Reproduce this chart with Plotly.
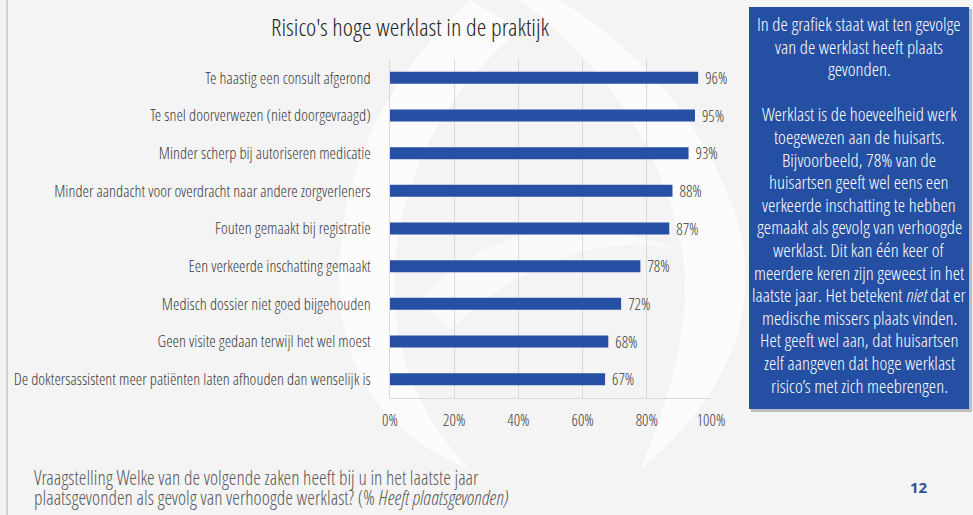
import plotly.graph_objects as go

categories = [
    "Te haastig een consult afgerond",
    "Te snel doorverwezen (niet doorgevraagd)",
    "Minder scherp bij autoriseren medicatie",
    "Minder aandacht voor overdracht naar andere zorgverleners",
    "Fouten gemaakt bij registratie",
    "Een verkeerde inschatting gemaakt",
    "Medisch dossier niet goed bijgehouden",
    "Geen visite gedaan terwijl het wel moest",
    "De doktersassistent meer patiënten laten afhouden dan wenselijk is",
]
values = [96, 95, 93, 88, 87, 78, 72, 68, 67]
tick_vals = [0, 20, 40, 60, 80, 100]
tick_text = ["0%", "20%", "40%", "60%", "80%", "100%"]

title = "Risico's hoge werklast in de praktijk"
box_lines = [
    "In de grafiek staat wat ten gevolge",
    "van de werklast heeft plaats",
    "gevonden.",
    "",
    "Werklast is de hoeveelheid werk",
    "toegewezen aan de huisarts.",
    "Bijvoorbeeld, 78% van de",
    "huisartsen geeft wel eens een",
    "verkeerde inschatting te hebben",
    "gemaakt als gevolg van verhoogde",
    "werklast. Dit kan één keer of",
    "meerdere keren zijn geweest in het",
    "laatste jaar. Het betekent <i>niet</i> dat er",
    "medische missers plaats vinden.",
    "Het geeft wel aan, dat huisartsen",
    "zelf aangeven dat hoge werklast",
    "risico’s met zich meebrengen.",
]
footnote_lines = [
    "Vraagstelling Welke van de volgende zaken heeft bij u in het laatste jaar",
    "plaatsgevonden als gevolg van verhoogde werklast? (% <i>Heeft plaatsgevonden)</i>",
]
page_number = "12"

W, H = 973, 515
FONT = "Open Sans Condensed Light, Roboto Condensed, sans-serif"
BLUE = "#2550A3"
TXT = "#3C3C3C"


def px_x(p):
    return p / W


def px_y(p):
    return 1 - p / H


def path_px(points):
    # points: list of (cmd, [(x,y),...]) in pixel coords -> paper-coord SVG path
    parts = []
    for cmd, pts in points:
        coords = " ".join(f"{px_x(x):.5f},{px_y(y):.5f}" for x, y in pts)
        parts.append(f"{cmd} {coords}".strip())
    return " ".join(parts)


fig = go.Figure()
fig.add_trace(go.Bar(
    y=categories, x=values, orientation="h",
    marker=dict(color=BLUE, line=dict(width=0)),
    text=[f"\u2005{v}%" for v in values], textposition="outside",
    constraintext="none",
    textfont=dict(family=FONT, size=16, color=TXT),
    cliponaxis=False, hoverinfo="skip",
))

shapes = []
# faint watermark swirl
shapes.append(dict(type="path", xref="paper", yref="paper", layer="below",
                   path=path_px([("M", [(560, 0)]), ("Q", [(700, 90), (740, 230)]),
                                 ("Q", [(770, 360), (640, 470)]), ("Q", [(700, 330), (680, 240)]),
                                 ("Q", [(650, 100), (520, 0)]), ("Z", [])]),
                   fillcolor="rgba(255,255,255,0.7)", line=dict(width=0)))
shapes.append(dict(type="path", xref="paper", yref="paper", layer="below",
                   path=path_px([("M", [(470, 0)]), ("Q", [(330, 130), (340, 300)]),
                                 ("Q", [(350, 420), (470, 470)]), ("Q", [(385, 380), (395, 260)]),
                                 ("Q", [(410, 120), (520, 30)]), ("Z", [])]),
                   fillcolor="rgba(255,255,255,0.7)", line=dict(width=0)))
shapes.append(dict(type="path", xref="paper", yref="paper", layer="below",
                   path=path_px([("M", [(420, 300)]), ("Q", [(520, 190), (680, 250)]),
                                 ("Q", [(560, 225), (450, 330)]), ("Z", [])]),
                   fillcolor="rgba(255,255,255,0.55)", line=dict(width=0)))
# left border line
shapes.append(dict(type="line", xref="paper", yref="paper",
                   x0=px_x(7), x1=px_x(7), y0=0, y1=1,
                   line=dict(color="#C4C4C4", width=1.5)))
# text box shadow + box
shapes.append(dict(type="rect", xref="paper", yref="paper",
                   x0=px_x(751), x1=px_x(972), y0=px_y(412), y1=px_y(9),
                   fillcolor="rgba(0,0,0,0.22)", line=dict(width=0)))
shapes.append(dict(type="rect", xref="paper", yref="paper",
                   x0=px_x(749), x1=px_x(969), y0=px_y(409), y1=px_y(7),
                   fillcolor="#254FA3", line=dict(width=0)))

annotations = []
annotations.append(dict(text=title, xref="paper", yref="paper",
                        x=px_x(410), y=px_y(26.5), xanchor="center", yanchor="middle",
                        showarrow=False, font=dict(family=FONT, size=24.6, color="#262626")))
for i, line in enumerate(box_lines):
    if not line:
        continue
    annotations.append(dict(text=line, xref="paper", yref="paper",
                            x=px_x(859), y=px_y(24 + i * 22.6), xanchor="center", yanchor="middle",
                            showarrow=False, font=dict(family=FONT, size=18.8, color="white")))
for i, line in enumerate(footnote_lines):
    annotations.append(dict(text=line, xref="paper", yref="paper",
                            x=px_x(32), y=px_y(477 + i * 20.5), xanchor="left", yanchor="middle",
                            showarrow=False, font=dict(family=FONT, size=19.5, color="#595959")))
annotations.append(dict(text=f"<b>{page_number}</b>", xref="paper", yref="paper",
                        x=px_x(919), y=px_y(487), xanchor="center", yanchor="middle",
                        showarrow=False, font=dict(family="Open Sans, sans-serif", size=15, color="#2F5597")))

fig.update_layout(
    width=W, height=H,
    margin=dict(l=0, r=0, t=0, b=0),
    paper_bgcolor="#F4F4F4", plot_bgcolor="rgba(0,0,0,0)",
    showlegend=False, bargap=0.68,
    shapes=shapes, annotations=annotations,
    font=dict(family=FONT, color=TXT),
    xaxis=dict(domain=[px_x(390), px_x(711)], range=[0, 100],
               tickvals=tick_vals, ticktext=tick_text,
               showgrid=True, gridcolor="#D9D9D9", gridwidth=1,
               showline=True, linecolor="#D9D9D9", linewidth=1,
               zeroline=False, ticks="outside", ticklen=8, tickcolor="rgba(0,0,0,0)",
               tickfont=dict(family=FONT, size=16, color=TXT), automargin=False),
    yaxis=dict(domain=[px_y(398), px_y(59)], autorange="reversed",
               categoryorder="array", categoryarray=categories,
               showline=True, linecolor="#D9D9D9", linewidth=1,
               showgrid=False, ticks="outside", ticklen=15, tickcolor="rgba(0,0,0,0)",
               tickfont=dict(family=FONT, size=16.4, color=TXT), automargin=False),
)

fig.write_html("out.html")
